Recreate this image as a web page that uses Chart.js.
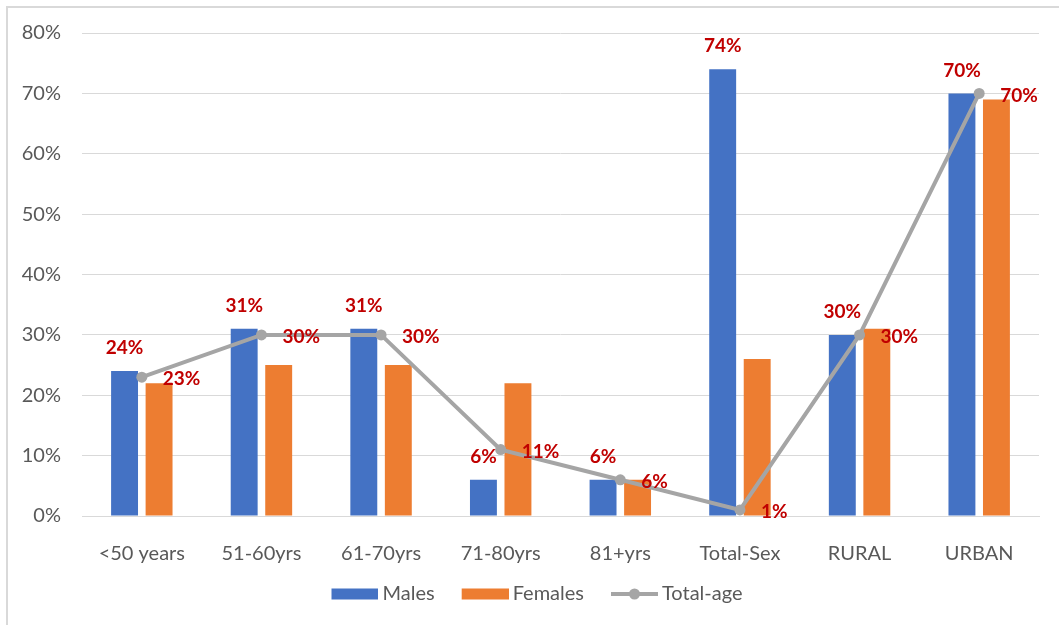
<!DOCTYPE html>
<html>
<head>
<meta charset="utf-8">
<script src="https://cdn.jsdelivr.net/npm/chart.js@4/dist/chart.umd.min.js"></script>
<style>
  html, body { margin: 0; padding: 0; background: #fff; }
  #wrap { position: relative; width: 1059px; height: 625px; }
  #frame { position: absolute; left: 6px; top: 6px; width: 1100px; height: 700px;
           border-left: 2px solid #d9d9d9; border-top: 2px solid #d9d9d9; pointer-events: none; }
</style>
</head>
<body>
<div id="wrap">
  <canvas id="chart" width="1059" height="625"></canvas>
  <div id="frame"></div>
</div>
<script>
// data (percent)
const categories = ['<50 years', '51-60yrs', '61-70yrs', '71-80yrs', '81+yrs', 'Total-Sex', 'RURAL', 'URBAN'];
const males = [24, 31, 31, 6, 6, 74, 30, 70];
const females = [22, 25, 25, 22, 6, 26, 31, 69];
const totalAge = [23, 30, 30, 11, 6, 1, 30, 70];
const yTicks = [0, 10, 20, 30, 40, 50, 60, 70, 80];

const BLUE = '#4472C4', ORANGE = '#ED7D31', GREY = '#A5A5A5', RED = '#C00000', TXT = '#595959';
const FONT = 'Lato, "Liberation Sans", sans-serif';

// legend icons (drawn into small canvases, used as pointStyle)
function legendIcon(kind, color) {
  const c = document.createElement('canvas');
  c.width = 70; c.height = 14;
  const g = c.getContext('2d');
  if (kind === 'bar') {
    g.fillStyle = color;
    g.fillRect(23, 1.5, 47, 11);
  } else {
    g.strokeStyle = color; g.lineWidth = 4;
    g.beginPath(); g.moveTo(23, 7); g.lineTo(70, 7); g.stroke();
    g.fillStyle = color;
    g.beginPath(); g.arc(46.5, 7, 5.5, 0, Math.PI * 2); g.fill();
  }
  return c;
}
const icons = [legendIcon('bar', BLUE), legendIcon('bar', ORANGE), legendIcon('line', GREY)];

// data labels: above the Males bars, right of the Total-age points
const valueLabels = {
  id: 'valueLabels',
  afterDatasetsDraw(chart) {
    const ctx = chart.ctx;
    ctx.save();
    ctx.fillStyle = RED;
    ctx.font = 'bold 19px ' + FONT;
    ctx.textBaseline = 'middle';
    chart.getDatasetMeta(0).data.forEach((el, i) => {
      ctx.textAlign = 'center';
      ctx.fillText(males[i] + '%', el.x, el.y - 23);
    });
    chart.getDatasetMeta(2).data.forEach((el, i) => {
      ctx.textAlign = 'left';
      ctx.fillText(totalAge[i] + '%', el.x + 21, el.y + 2);
    });
    ctx.restore();
  }
};

new Chart(document.getElementById('chart'), {
  type: 'bar',
  data: {
    labels: categories,
    datasets: [
      { label: 'Males', data: males, backgroundColor: BLUE, order: 1,
        categoryPercentage: 0.577, barPercentage: 0.78 },
      { label: 'Females', data: females, backgroundColor: ORANGE, order: 1,
        categoryPercentage: 0.577, barPercentage: 0.78 },
      { label: 'Total-age', type: 'line', data: totalAge, order: 0,
        borderColor: GREY, backgroundColor: GREY, borderWidth: 4,
        pointRadius: 5.5, pointBackgroundColor: GREY, pointBorderWidth: 0 }
    ]
  },
  options: {
    responsive: false,
    animation: false,
    layout: { padding: { left: 18, right: 20, top: 33, bottom: 11 } },
    scales: {
      x: {
        grid: { display: false },
        border: { display: true, color: '#D9D9D9', width: 1 },
        ticks: { color: TXT, font: { family: FONT, size: 20 }, padding: 18, maxRotation: 0 },
        afterFit(scale) { scale.height = 58; }
      },
      y: {
        min: 0, max: 80,
        afterBuildTicks(scale) { scale.ticks = yTicks.map(v => ({ value: v })); },
        grid: { color: '#D9D9D9', lineWidth: 1, drawTicks: false },
        border: { display: false },
        ticks: { color: TXT, font: { family: FONT, size: 20 }, padding: 21,
                 callback: v => v + '%' },
        afterFit(scale) { scale.width = 64; }
      }
    },
    plugins: {
      tooltip: { enabled: false },
      legend: {
        position: 'bottom',
        labels: {
          usePointStyle: true,
          pointStyleWidth: 58,
          padding: 10,
          color: TXT,
          font: { family: FONT, size: 20 },
          generateLabels(chart) {
            const items = Chart.defaults.plugins.legend.labels.generateLabels(chart);
            items.sort((a, b) => a.datasetIndex - b.datasetIndex);
            items.forEach(it => { it.pointStyle = icons[it.datasetIndex]; });
            return items;
          }
        }
      }
    }
  },
  plugins: [valueLabels]
});
</script>
</body>
</html>
